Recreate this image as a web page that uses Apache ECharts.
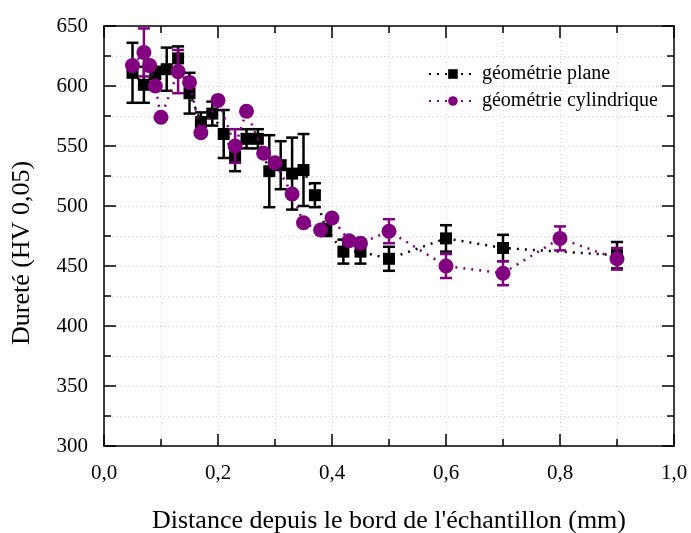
<!DOCTYPE html>
<html>
<head>
<meta charset="utf-8">
<script src="https://cdn.jsdelivr.net/npm/echarts@6/dist/echarts.min.js"></script>
<style>
  html, body { margin: 0; padding: 0; background: #fff; }
  #main { width: 691px; height: 533px; }
</style>
</head>
<body>
<div id="main"></div>
<script>
// géométrie plane
var planeX = [0.05, 0.07, 0.09, 0.11, 0.13, 0.15, 0.17, 0.19, 0.21, 0.23, 0.25, 0.27, 0.29, 0.31, 0.33, 0.35, 0.37, 0.39, 0.42, 0.45, 0.5, 0.6, 0.7, 0.9];
var planeY = [611, 601, 611, 614, 623, 594, 570, 577, 560, 541, 556, 556, 529, 534, 527, 530, 509, 480, 462, 462, 456, 473, 465, 459];
var planeErr = [25, 15, 5, 18, 10, 17, 8, 10, 20, 12, 8, 8, 30, 20, 30, 30, 10, 5, 10, 10, 10, 11, 11, 11];

// géométrie cylindrique
var cylX = [0.05, 0.07, 0.08, 0.09, 0.10, 0.13, 0.15, 0.17, 0.20, 0.23, 0.25, 0.28, 0.30, 0.33, 0.35, 0.38, 0.40, 0.43, 0.45, 0.5, 0.6, 0.7, 0.8, 0.9];
var cylY = [617, 628, 617, 600, 574, 612, 603, 561, 588, 550, 579, 544, 536, 510, 486, 480, 490, 471, 469, 479, 450, 444, 473, 456];
var cylErr = [0, 20, 0, 0, 0, 18, 0, 0, 0, 14, 0, 0, 0, 0, 0, 0, 0, 0, 0, 10, 10, 10, 10, 9];

function pts(xs, ys) {
  return xs.map(function (x, i) { return [x, ys[i]]; });
}
function bars(xs, ys, es) {
  return xs.map(function (x, i) { return [x, ys[i] - es[i], ys[i] + es[i]]; }).filter(function (d) { return d[2] > d[1]; });
}
function errRender(color) {
  return function (params, api) {
    var lo = api.coord([api.value(0), api.value(1)]);
    var hi = api.coord([api.value(0), api.value(2)]);
    var w = 6;
    var st = { stroke: color, lineWidth: 2.5 };
    return {
      type: 'group',
      children: [
        { type: 'line', shape: { x1: lo[0], y1: lo[1], x2: hi[0], y2: hi[1] }, style: st },
        { type: 'line', shape: { x1: lo[0] - w, y1: lo[1], x2: lo[0] + w, y2: lo[1] }, style: st },
        { type: 'line', shape: { x1: hi[0] - w, y1: hi[1], x2: hi[0] + w, y2: hi[1] }, style: st }
      ]
    };
  };
}

var font = 'Liberation Serif';
var gridDot = { show: true, lineStyle: { color: '#d0d0d0', type: [1, 3], width: 1 } };
var comma = function (v) { return v.toFixed(1).replace('.', ','); };

var chartDom = document.getElementById('main');
var myChart = echarts.init(chartDom);

var option = {
  backgroundColor: '#fff',
  animation: false,
  textStyle: { fontFamily: font },
  grid: { left: 104, right: 17, top: 26, bottom: 87, outerBoundsMode: 'none' },
  legend: {
    right: 28,
    top: 59,
    orient: 'vertical',
    itemGap: 7,
    itemWidth: 48,
    itemHeight: 12,
    textStyle: { fontFamily: font, fontSize: 20, color: '#000' },
    data: ['géométrie plane', 'géométrie cylindrique']
  },
  xAxis: [
    {
      type: 'value', min: 0, max: 1, interval: 0.2,
      name: "Distance depuis le bord de l'échantillon (mm)",
      nameLocation: 'middle', nameGap: 62,
      nameTextStyle: { fontFamily: font, fontSize: 26, color: '#000' },
      axisLine: { show: true, onZero: false, lineStyle: { color: '#000', width: 1.5 } },
      axisTick: { show: true, inside: true, length: 12, lineStyle: { color: '#000', width: 1.5 } },
      minorTick: { show: true, splitNumber: 2, length: 7, lineStyle: { color: '#000', width: 1.5 } },
      axisLabel: { fontFamily: font, fontSize: 21, color: '#000', margin: 17, formatter: comma },
      splitLine: gridDot,
      minorSplitLine: gridDot
    },
    {
      type: 'value', min: 0, max: 1, interval: 0.2, position: 'top',
      axisLine: { show: true, onZero: false, lineStyle: { color: '#000', width: 1.5 } },
      axisTick: { show: true, inside: true, length: 12, lineStyle: { color: '#000', width: 1.5 } },
      minorTick: { show: true, splitNumber: 2, length: 7, lineStyle: { color: '#000', width: 1.5 } },
      axisLabel: { show: false },
      splitLine: { show: false }
    }
  ],
  yAxis: [
    {
      type: 'value', min: 300, max: 650, interval: 50,
      name: 'Dureté (HV 0,05)',
      nameLocation: 'middle', nameGap: 69,
      nameTextStyle: { fontFamily: font, fontSize: 26, color: '#000', padding: [0, 34, 0, 0] },
      axisLine: { show: true, onZero: false, lineStyle: { color: '#000', width: 1.5 } },
      axisTick: { show: true, inside: true, length: 12, lineStyle: { color: '#000', width: 1.5 } },
      minorTick: { show: true, splitNumber: 2, length: 7, lineStyle: { color: '#000', width: 1.5 } },
      axisLabel: { fontFamily: font, fontSize: 21, color: '#000', margin: 16 },
      splitLine: gridDot,
      minorSplitLine: gridDot
    },
    {
      type: 'value', min: 300, max: 650, interval: 50, position: 'right',
      axisLine: { show: true, onZero: false, lineStyle: { color: '#000', width: 1.5 } },
      axisTick: { show: true, inside: true, length: 12, lineStyle: { color: '#000', width: 1.5 } },
      minorTick: { show: true, splitNumber: 2, length: 7, lineStyle: { color: '#000', width: 1.5 } },
      axisLabel: { show: false },
      splitLine: { show: false }
    }
  ],
  series: [
    {
      type: 'custom',
      name: 'plane err',
      renderItem: errRender('#000'),
      data: bars(planeX, planeY, planeErr),
      z: 2
    },
    {
      name: 'géométrie plane',
      type: 'line',
      data: pts(planeX, planeY),
      symbol: 'rect',
      symbolSize: 12,
      itemStyle: { color: '#000' },
      lineStyle: { color: '#000', width: 2.5, type: [2, 6] },
      z: 3
    },
    {
      type: 'custom',
      name: 'cyl err',
      renderItem: errRender('#800080'),
      data: bars(cylX, cylY, cylErr),
      z: 4
    },
    {
      name: 'géométrie cylindrique',
      type: 'line',
      data: pts(cylX, cylY),
      symbol: 'circle',
      symbolSize: 15,
      itemStyle: { color: '#800080' },
      lineStyle: { color: '#800080', width: 2.5, type: [2, 6] },
      z: 5
    }
  ]
};

option && myChart.setOption(option);
</script>
</body>
</html>
